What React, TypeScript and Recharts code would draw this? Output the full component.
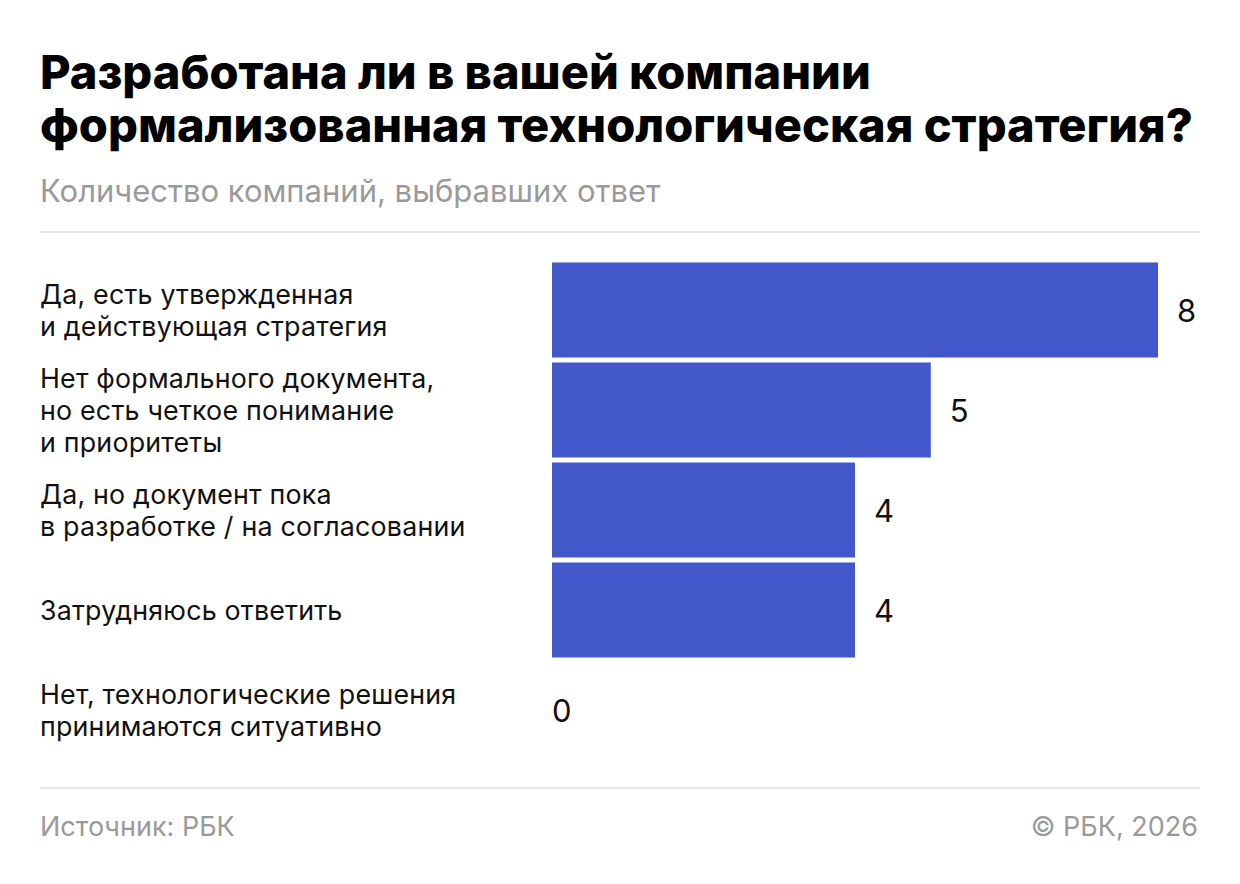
import React from "react";
import { BarChart, Bar, XAxis, YAxis } from "recharts";

const categories = [
  "Да, есть утвержденная\nи действующая стратегия",
  "Нет формального документа,\nно есть четкое понимание\nи приоритеты",
  "Да, но документ пока\nв разработке / на согласовании",
  "Затрудняюсь ответить",
  "Нет, технологические решения\nпринимаются ситуативно",
];
const values = [8, 5, 4, 4, 0];
const titleLines = [
  "Разработана ли в вашей компании",
  "формализованная технологическая стратегия?",
];
const subtitle = "Количество компаний, выбравших ответ";
const sourceText = "Источник: РБК";
const copyrightText = "© РБК, 2026";

const data = categories.map((name, i) => ({ name, value: values[i] }));

const FONT = "Inter, Roboto, 'Noto Sans', sans-serif";
const BAR_COLOR = "#4157CA";

const CategoryTick = (props: any) => {
  const { y, payload } = props;
  const lines = String(payload.value).split("\n");
  const lh = 32;
  const start = y - ((lines.length - 1) * lh) / 2;
  return (
    <text x={40} y={start} fontFamily={FONT} fontSize={26.8} letterSpacing={0.2} fill="#111" textAnchor="start">
      {lines.map((l, i) => (
        <tspan key={i} x={40} y={start + i * lh} dominantBaseline="central">
          {l}
        </tspan>
      ))}
    </text>
  );
};

const BarWithLabel = (props: any) => {
  const { x, y, width, height, value, payload } = props;
  const v = typeof value === "number" ? value : payload?.value;
  const w = v > 0 ? width : 0;
  const offset = v > 0 ? 19 : 0;
  return (
    <g>
      {v > 0 && <rect x={x} y={y} width={w} height={height} fill={BAR_COLOR} />}
      <text
        x={x + w + offset}
        y={y + height / 2}
        fontFamily={FONT}
        fontSize={31}
        fill="#111"
        textAnchor="start"
        dominantBaseline="central"
      >
        {v}
      </text>
    </g>
  );
};

export default function App() {
  return (
    <div
      style={{
        position: "absolute",
        left: 0,
        top: 0,
        width: 1240,
        height: 884,
        background: "#fff",
        overflow: "hidden",
      }}
    >
      <svg width={1240} height={884} style={{ position: "absolute", left: 0, top: 0 }}>
        <text x={40} y={89} fontFamily={FONT} fontWeight={800} fontSize={47} fill="#000">
          {titleLines[0]}
        </text>
        <text x={40} y={142} fontFamily={FONT} fontWeight={800} fontSize={47} fill="#000">
          {titleLines[1]}
        </text>
        <text x={40} y={202} fontFamily={FONT} fontSize={31} fill="#9a9a9a">
          {subtitle}
        </text>
        <rect x={40} y={231} width={1160} height={2} fill="#e6e6e6" />
        <rect x={40} y={787} width={1160} height={2} fill="#e6e6e6" />
        <text x={40} y={836} fontFamily={FONT} fontSize={27} fill="#9a9a9a">
          {sourceText}
        </text>
        <text x={1198} y={836} fontFamily={FONT} fontSize={27} fill="#9a9a9a" textAnchor="end">
          {copyrightText}
        </text>
      </svg>
      <div style={{ position: "absolute", left: 0, top: 0 }}>
        <BarChart
          width={1240}
          height={884}
          data={data}
          layout="vertical"
          margin={{ top: 259.5, bottom: 124.5, left: 40, right: 82 }}
          barSize={95}
        >
          <XAxis type="number" domain={[0, 8]} hide />
          <YAxis
            type="category"
            dataKey="name"
            width={512}
            axisLine={false}
            tickLine={false}
            tick={<CategoryTick />}
            interval={0}
          />
          <Bar
            dataKey="value"
            fill={BAR_COLOR}
            isAnimationActive={false}
            minPointSize={1}
            shape={<BarWithLabel />}
          />
        </BarChart>
      </div>
    </div>
  );
}
